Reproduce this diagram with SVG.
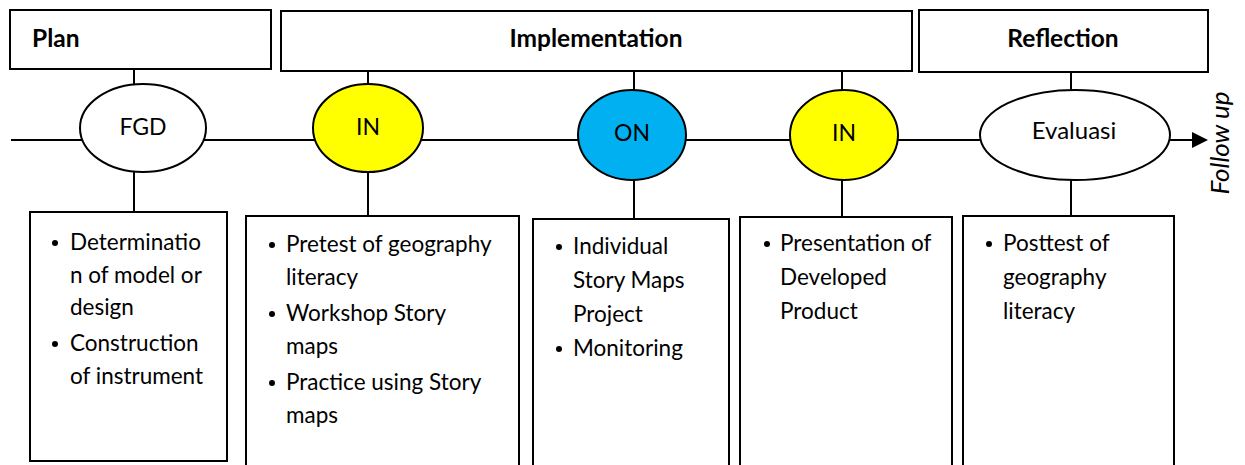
<svg xmlns="http://www.w3.org/2000/svg" width="1245" height="465" viewBox="0 0 1245 465">
<defs>
<style>
.box{fill:#fff;stroke:#000;stroke-width:2}
.ell{stroke:#000;stroke-width:2}
.ln{stroke:#000;stroke-width:2;fill:none}
text{font-family:Lato,"Liberation Sans",sans-serif;font-size:22.5px;fill:#000}
.t{font-weight:bold;font-size:24.5px}
.e{font-size:23px}
.c{text-anchor:middle}
</style>
</defs>
<rect width="1245" height="465" fill="#fff"/>
<g id="connectors">
<line class="ln" x1="11" y1="140" x2="1193" y2="140"/>
<path d="M1192,132 L1208,140 L1192,148 Z" fill="#000"/>
<line class="ln" x1="134" y1="69" x2="134" y2="84"/>
<line class="ln" x1="134" y1="172" x2="134" y2="212"/>
<line class="ln" x1="368" y1="71" x2="368" y2="84"/>
<line class="ln" x1="368" y1="172" x2="368" y2="216"/>
<line class="ln" x1="634" y1="71" x2="634" y2="90"/>
<line class="ln" x1="634" y1="180" x2="634" y2="219"/>
<line class="ln" x1="842" y1="71" x2="842" y2="90"/>
<line class="ln" x1="842" y1="180" x2="842" y2="217"/>
<line class="ln" x1="1071" y1="72" x2="1071" y2="90"/>
<line class="ln" x1="1071" y1="180" x2="1071" y2="216"/>
</g>
<g id="plan"><rect class="box" x="10" y="10" width="261" height="59"/><text class="t" x="32" y="47">Plan</text></g>
<g id="implementation"><rect class="box" x="281" y="11" width="631" height="60"/><text class="t c" x="596" y="47">Implementation</text></g>
<g id="reflection"><rect class="box" x="919" y="10" width="289" height="62"/><text class="t c" x="1063" y="47">Reflection</text></g>
<g id="fgd"><ellipse class="ell" cx="143" cy="128" rx="63" ry="44" fill="#fff"/><text class="c e" x="143" y="135">FGD</text></g>
<g id="in1"><ellipse class="ell" cx="368" cy="128" rx="55" ry="44" fill="#ffff00"/><text class="c e" x="368" y="135">IN</text></g>
<g id="on"><ellipse class="ell" cx="632" cy="135" rx="54" ry="45" fill="#00b0f0"/><text class="c e" x="632" y="141">ON</text></g>
<g id="in2"><ellipse class="ell" cx="844" cy="135" rx="54" ry="45" fill="#ffff00"/><text class="c e" x="844" y="141">IN</text></g>
<g id="evaluasi"><ellipse class="ell" cx="1075" cy="135" rx="95" ry="45" fill="#fff"/><text class="c" x="1074" y="139" style="font-size:24px">Evaluasi</text></g>
<g id="followup"><text x="0" y="0" class="c" font-style="italic" style="font-size:26px" transform="translate(1229,143) rotate(-90)">Follow up</text></g>
<g id="box1"><rect class="box" x="30" y="212" width="197" height="249"/>
<circle cx="55" cy="243" r="3"/><circle cx="55" cy="344" r="3"/>
<text x="70" y="250">Determinatio</text><text x="70" y="283">n of model or</text><text x="70" y="315">design</text><text x="70" y="351">Construction</text><text x="70" y="384">of instrument</text></g>
<g id="box2"><rect class="box" x="246" y="216" width="273" height="260"/>
<circle cx="272" cy="245" r="3"/><circle cx="272" cy="314" r="3"/><circle cx="272" cy="383" r="3"/>
<text x="286" y="252">Pretest of geography</text><text x="286" y="285">literacy</text><text x="286" y="321">Workshop Story</text><text x="286" y="354">maps</text><text x="286" y="390">Practice using Story</text><text x="286" y="423">maps</text></g>
<g id="box3"><rect class="box" x="533" y="219" width="196" height="260"/>
<circle cx="559" cy="247" r="3"/><circle cx="559" cy="349" r="3"/>
<text x="573" y="254">Individual</text><text x="573" y="288">Story Maps</text><text x="573" y="322">Project</text><text x="573" y="356">Monitoring</text></g>
<g id="box4"><rect class="box" x="740" y="217" width="212" height="260"/>
<circle cx="767" cy="244" r="3"/>
<text x="780" y="251">Presentation of</text><text x="780" y="285">Developed</text><text x="780" y="319">Product</text></g>
<g id="box5"><rect class="box" x="963" y="216" width="211" height="260"/>
<circle cx="989" cy="244" r="3"/>
<text x="1003" y="251">Posttest of</text><text x="1003" y="285">geography</text><text x="1003" y="319">literacy</text></g>
</svg>
